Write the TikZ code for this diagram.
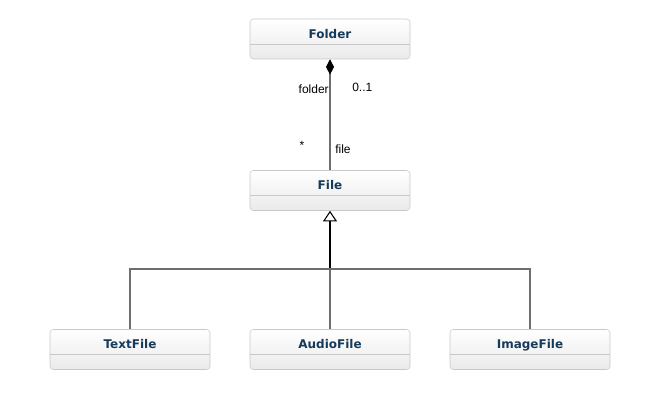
\documentclass[tikz,border=0pt]{standalone}
\usepackage{fontspec}
\setmainfont{Liberation Sans}
\newfontfamily\namefont{DejaVu Sans}
\usetikzlibrary{arrows.meta,shadings}
\definecolor{boxline}{RGB}{200,200,200}
\definecolor{boxfill}{RGB}{234,234,234}
\definecolor{namecol}{RGB}{22,58,90}
\definecolor{linecol}{RGB}{110,110,110}
\tikzset{
  classbox/.style = {draw=boxline, rounded corners=2.5pt, top color=white, bottom color=boxfill,
    minimum width=120pt, inner ysep=0pt, text height=14.6pt, text depth=15.4pt,
    font=\namefont\bfseries\fontsize{9}{10}\selectfont, text=namecol,
    path picture={\draw[boxline] ([yshift=-18.75pt]path picture bounding box.north west)
      -- ([yshift=-18.75pt]path picture bounding box.north east);}},
  rolelabel/.style = {inner sep=0pt, font=\fontsize{9}{10}\selectfont},
  assoc/.style = {draw=linecol, line width=0.8pt}
}
\begin{document}
\begin{tikzpicture}[x=0.75pt, y=-0.75pt]
  \useasboundingbox (0,0) rectangle (660,420);
  \node[classbox] (folder) at (330,39) {Folder};
  \node[classbox] (file) at (330,190.5) {File};
  \node[classbox] (textfile) at (130,349.5) {TextFile};
  \node[classbox] (audiofile) at (330,349.5) {AudioFile};
  \node[classbox] (imagefile) at (530,349.5) {ImageFile};
  \coordinate (joint) at (330,269);
  % composition
  \draw[assoc, {Diamond[black, length=11.5pt, width=6pt]}-] (folder.south) -- (file.north);
  \node[rolelabel, anchor=base east] (folderrole) at (329,94) {folder};
  \node[rolelabel, anchor=base west] (foldermult) at (352,92) {0..1};
  \node[rolelabel, anchor=base] (filemult) at (302,150) {*};
  \node[rolelabel, anchor=base west] (filerole) at (335,154) {file};
  % generalization
  \draw[line width=1.2pt, -{Triangle[open, length=8pt, width=10.5pt, line width=0.8pt]}] (joint) -- (file.south);
  \draw[assoc] (joint) -| (textfile.north);
  \draw[assoc] (joint) -| (imagefile.north);
  \draw[assoc] (joint) -- (audiofile.north);
\end{tikzpicture}
\end{document}
